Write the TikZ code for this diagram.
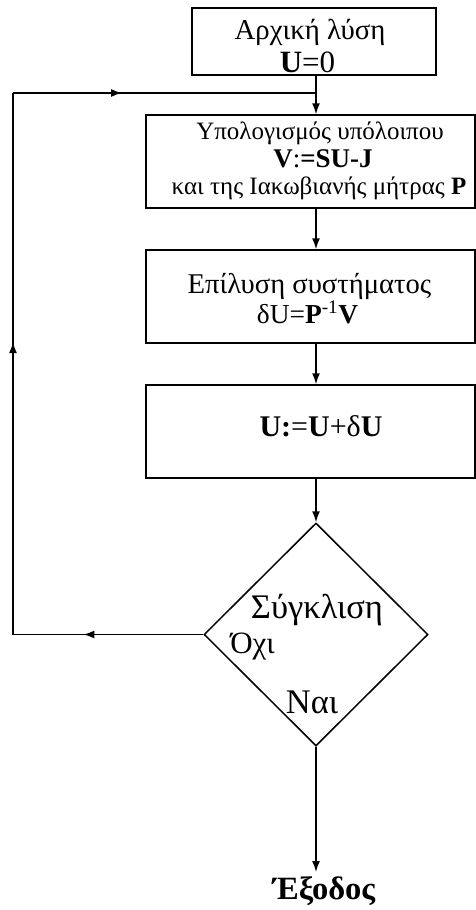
\documentclass[tikz,border=0pt]{standalone}
\usepackage{fontspec}
\setmainfont{Liberation Serif}
\usetikzlibrary{shapes.geometric,arrows.meta,decorations.markings}
\newcommand{\fsz}[1]{\fontsize{#1}{#1}\selectfont}
\tikzset{
  box/.style={draw,line width=1.5pt,inner sep=0pt},
  conn/.style={line width=1.5pt,-{Latex[length=11pt,width=8pt]}},
  plainline/.style={line width=1.5pt},
  midarrow/.style={postaction={decorate},decoration={markings,
     mark=at position #1 with {\arrow{Latex[length=11pt,width=8pt]}}}},
  txt/.style={inner sep=0pt,anchor=base}
}
\begin{document}
\begin{tikzpicture}[x=1pt,y=-1pt]
\useasboundingbox[fill=white] (0,0) rectangle (476,910);
% boxes
\node[box,minimum width=244pt,minimum height=67pt] (b1) at (314,41.5) {};
\node[box,minimum width=329pt,minimum height=93pt] (b2) at (310.5,161.5) {};
\node[box,minimum width=329pt,minimum height=93pt] (b3) at (310.5,296.5) {};
\node[box,minimum width=329pt,minimum height=93pt] (b4) at (310.5,431.5) {};
% box texts
\node[txt,font=\fsz{28.8}] (l1a) at (310,39) {Αρχική λύση};
\node[txt,font=\fsz{31}] (l1b) at (307.5,72) {\textbf{U}=0};
\node[txt,font=\fsz{25}] (l2a) at (320,139) {Υπολογισμός υπόλοιπου};
\node[txt,font=\fsz{27}] (l2b) at (323,167) {\textbf{V}:\textbf{=SU-J}};
\node[txt,font=\fsz{25}] (l2c) at (319,194) {και της Ιακωβιανής μήτρας \textbf{P}};
\node[txt,font=\fsz{28.6}] (l3a) at (309.5,293) {Επίλυση συστήματος};
\node[txt,font=\fsz{27.4}] (l3b) at (307.5,323) {δU=\textbf{P}\textsuperscript{-1}\textbf{V}};
\node[txt,font=\fsz{30}] (l4a) at (321,436) {\textbf{U:}=\textbf{U}+δ\textbf{U}};
% decision
\node[draw,diamond,line width=1.5pt,inner sep=0pt,minimum width=224pt,minimum height=223pt] (dec) at (316,634.5) {};
\node[txt,font=\fsz{34.5}] (t1) at (317,618) {Σύγκλιση};
\node[txt,font=\fsz{31},anchor=base east] (t2) at (275,653) {Όχι};
\node[txt,font=\fsz{34.5}] (t3) at (312,713) {Ναι};
% exit
\node[txt,font=\fsz{32.5}\bfseries] (ex) at (324,899) {Έξοδος};
% connectors
\coordinate (j) at (316,93);
\coordinate (c1) at (13,634.5);
\coordinate (c2) at (13,93);
\coordinate (exin) at (316,872);
\draw[plainline] (b1.south -| j) -- (j);
\draw[conn] (j) -- (b2.north -| j);
\draw[conn] (b2.south -| j) -- (b3.north -| j);
\draw[conn] (b3.south -| j) -- (b4.north -| j);
\draw[conn] (b4.south -| j) -- (dec.north);
\draw[plainline,midarrow=0.63] (dec.west) -- (c1);
\draw[plainline,midarrow=0.54] (c1) -- (c2);
\draw[plainline,midarrow=0.36] (c2) -- (j);
\draw[conn] (dec.south) -- (exin);
\end{tikzpicture}
\end{document}
